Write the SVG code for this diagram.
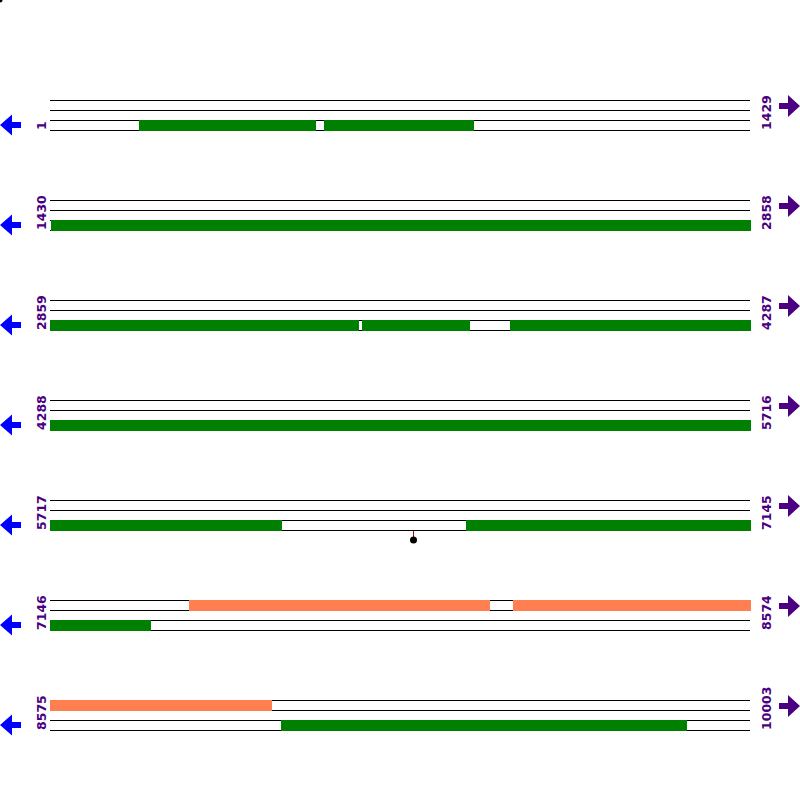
<svg xmlns="http://www.w3.org/2000/svg" width="800" height="800" viewBox="0 0 800 800">
<defs>
<style>
.ln{stroke:#000;stroke-width:1;fill:none}
.g{fill:#008000}
.o{fill:#FF7F50}
.lbl{font-family:"DejaVu Sans",sans-serif;font-size:12.5px;font-weight:bold;fill:#4B0082}
.la{fill:#0000FF}
.ra{fill:#4B0082}
</style>
<g id="track">
<line class="ln" x1="50" y1="0.5" x2="750" y2="0.5"/>
<line class="ln" x1="50" y1="10.5" x2="750" y2="10.5"/>
<line class="ln" x1="50" y1="20.5" x2="750" y2="20.5"/>
<line class="ln" x1="50" y1="30.5" x2="750" y2="30.5"/>
</g>
<polygon id="larrow" class="la" points="0,25 12,14.5 12,22 21,22 21,28 12,28 12,35.5"/>
<polygon id="rarrow" class="ra" points="800,6 788,-5 788,3 779,3 779,9 788,9 788,17"/>
</defs>
<circle cx="0" cy="0" r="2.5" fill="#000"/>
<g id="row1" transform="translate(0,100)">
<use href="#track"/>
<rect class="g" x="139" y="20" width="177" height="11"/>
<rect class="g" x="324" y="20" width="150" height="11"/>
<use href="#larrow"/><use href="#rarrow"/>
<text class="lbl" transform="translate(46,30) rotate(-90)">1</text>
<text class="lbl" transform="translate(771,30) rotate(-90)">1429</text>
</g>
<g id="row2" transform="translate(0,200)">
<use href="#track"/>
<rect class="g" x="51" y="20" width="700" height="11"/>
<use href="#larrow"/><use href="#rarrow"/>
<text class="lbl" transform="translate(46,30) rotate(-90)">1430</text>
<text class="lbl" transform="translate(771,30) rotate(-90)">2858</text>
</g>
<g id="row3" transform="translate(0,300)">
<use href="#track"/>
<rect class="g" x="50" y="20" width="309" height="11"/>
<rect class="g" x="362" y="20" width="108" height="11"/>
<rect class="g" x="510" y="20" width="241" height="11"/>
<use href="#larrow"/><use href="#rarrow"/>
<text class="lbl" transform="translate(46,30) rotate(-90)">2859</text>
<text class="lbl" transform="translate(771,30) rotate(-90)">4287</text>
</g>
<g id="row4" transform="translate(0,400)">
<use href="#track"/>
<rect class="g" x="50" y="20" width="701" height="11"/>
<use href="#larrow"/><use href="#rarrow"/>
<text class="lbl" transform="translate(46,30) rotate(-90)">4288</text>
<text class="lbl" transform="translate(771,30) rotate(-90)">5716</text>
</g>
<g id="row5" transform="translate(0,500)">
<use href="#track"/>
<rect class="g" x="50" y="20" width="232" height="11"/>
<rect class="g" x="466" y="20" width="285" height="11"/>
<line x1="413.5" y1="31" x2="413.5" y2="38" stroke="#b00000" stroke-width="1"/>
<circle cx="413.5" cy="40" r="3.5" fill="#000"/>
<use href="#larrow"/><use href="#rarrow"/>
<text class="lbl" transform="translate(46,30) rotate(-90)">5717</text>
<text class="lbl" transform="translate(771,30) rotate(-90)">7145</text>
</g>
<g id="row6" transform="translate(0,600)">
<use href="#track"/>
<rect class="o" x="189" y="0" width="301" height="11"/>
<rect class="o" x="513" y="0" width="238" height="11"/>
<rect class="g" x="50" y="20" width="101" height="11"/>
<use href="#larrow"/><use href="#rarrow"/>
<text class="lbl" transform="translate(46,30) rotate(-90)">7146</text>
<text class="lbl" transform="translate(771,30) rotate(-90)">8574</text>
</g>
<g id="row7" transform="translate(0,700)">
<use href="#track"/>
<rect class="o" x="50" y="0" width="222" height="11"/>
<rect class="g" x="281" y="20" width="406" height="11"/>
<use href="#larrow"/><use href="#rarrow"/>
<text class="lbl" transform="translate(46,30) rotate(-90)">8575</text>
<text class="lbl" transform="translate(771,30) rotate(-90)">10003</text>
</g>
</svg>
